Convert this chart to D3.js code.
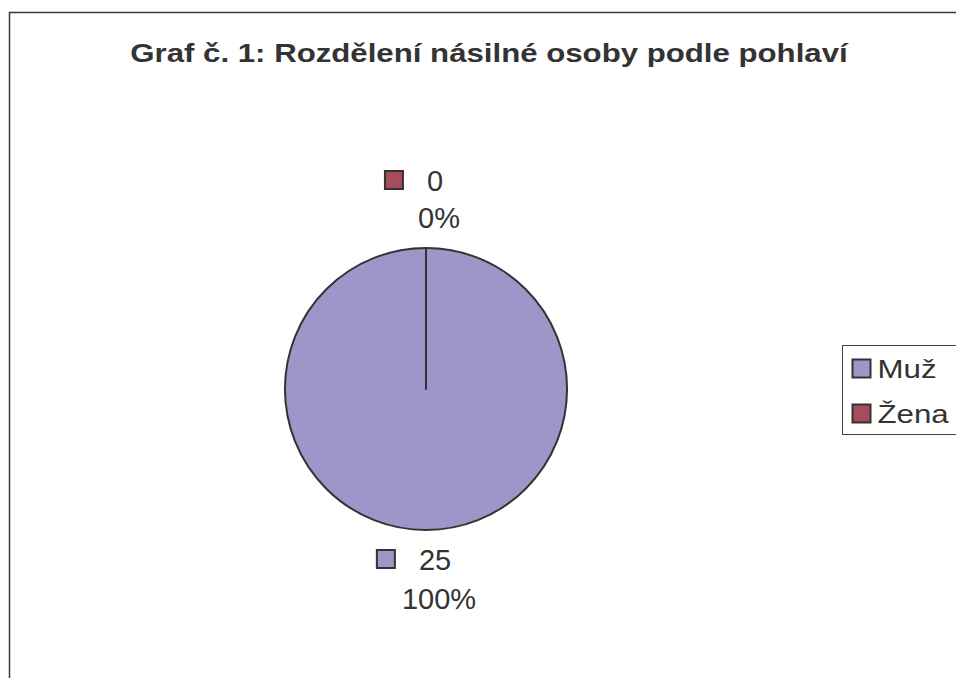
<!DOCTYPE html>
<html>
<head>
<meta charset="utf-8">
<script src="https://cdn.jsdelivr.net/npm/d3@7"></script>
<style>
  html, body { margin: 0; padding: 0; background: #fff; }
  text { font-family: Arial, "Liberation Sans", sans-serif; fill: #333; }
</style>
</head>
<body>
<svg id="chart" width="956" height="678"></svg>
<script>
const categories = ["Muž", "Žena"];
const values = [25, 0];
const percentLabels = ["100%", "0%"];
const colors = ["#9d97c9", "#a64c5e"];
const title = "Graf č. 1: Rozdělení násilné osoby podle pohlaví";

const svg = d3.select("#chart");
svg.append("rect").attr("width", 956).attr("height", 678).attr("fill", "#fff");

// outer chart area border
svg.append("rect")
  .attr("x", 9.5).attr("y", 12.5).attr("width", 1100).attr("height", 1100)
  .attr("fill", "none").attr("stroke", "#3a3a3a").attr("stroke-width", 1.5);

svg.append("text")
  .attr("transform", "translate(489,62) scale(1.2,1)")
  .attr("text-anchor", "middle")
  .attr("font-size", 26).attr("font-weight", "bold")
  .text(title);

const cx = 426, cy = 389, r = 141;
const pie = d3.pie().sort(null).value(d => d.value);
const data = categories.map((c, i) => ({ cat: c, value: values[i], pct: percentLabels[i], color: colors[i] }));
const arcs = pie(data);
const arc = d3.arc().innerRadius(0).outerRadius(r);

const g = svg.append("g").attr("transform", `translate(${cx},${cy})`);
g.selectAll("path.slice").data(arcs).enter().append("path")
  .attr("class", "slice")
  .attr("d", arc)
  .attr("fill", d => d.data.color)
  .attr("stroke", "#333").attr("stroke-width", 2).attr("stroke-linejoin", "round");

// radial divider line for zero-size slice boundary
arcs.forEach(d => {
  const a = d.startAngle;
  g.append("line")
    .attr("x1", 0).attr("y1", 0)
    .attr("x2", r * Math.sin(a)).attr("y2", -r * Math.cos(a))
    .attr("stroke", "#333").attr("stroke-width", 2);
});

// data labels
const labelOffset = 20;
arcs.forEach(d => {
  const mid = (d.startAngle + d.endAngle) / 2;
  const top = Math.cos(mid) > 0; // label above pie
  const lg = g.append("g");
  let base1, base2;
  if (top) {
    base2 = -r - labelOffset;
    base1 = base2 - 37;
  } else {
    base1 = r + labelOffset + 20;
    base2 = base1 + 39;
  }
  const numText = lg.append("text")
    .attr("font-size", 29)
    .attr("y", base1)
    .text(d.data.value);
  const nw = numText.node().getComputedTextLength();
  const sq = 18, gap = 24;
  const lineW = sq + gap + nw;
  const startX = -12 - lineW / 2;
  lg.append("rect")
    .attr("x", startX).attr("y", base1 - 20)
    .attr("width", sq).attr("height", sq)
    .attr("fill", d.data.color).attr("stroke", "#333").attr("stroke-width", 2);
  numText.attr("x", startX + sq + gap);
  lg.append("text")
    .attr("font-size", 29)
    .attr("x", 13).attr("y", base2)
    .attr("text-anchor", "middle")
    .text(d.data.pct);
});

// legend
const lx = 842.5, ly = 345.5;
svg.append("rect")
  .attr("x", lx).attr("y", ly).attr("width", 200).attr("height", 89)
  .attr("fill", "#fff").attr("stroke", "#444").attr("stroke-width", 1);
const leg = svg.selectAll("g.leg").data(data).enter().append("g")
  .attr("class", "leg")
  .attr("transform", (d, i) => `translate(${lx + 10},${ly + 14 + i * 45})`);
leg.append("rect")
  .attr("x", 0).attr("y", 0).attr("width", 18).attr("height", 18)
  .attr("fill", d => d.color).attr("stroke", "#333").attr("stroke-width", 2);
leg.append("text")
  .attr("transform", "translate(25,18.5) scale(1.25,1)")
  .attr("font-size", 25)
  .text(d => d.cat);
</script>
</body>
</html>
